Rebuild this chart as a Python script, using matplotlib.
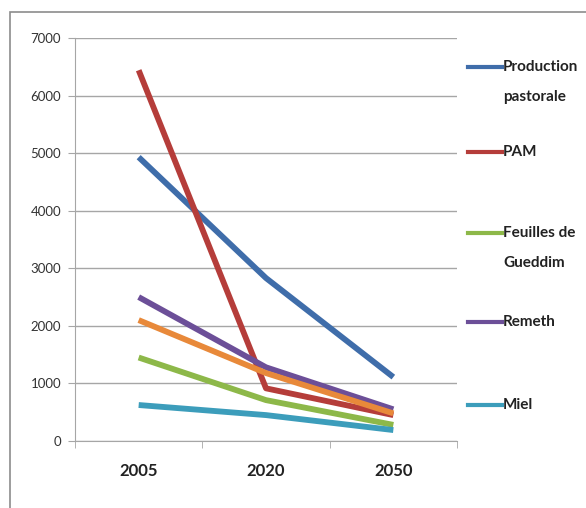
import numpy as np
import matplotlib.pyplot as plt
from matplotlib.lines import Line2D
from matplotlib.patches import Rectangle

years = ['2005', '2020', '2050']
production_pastorale = [4930, 2830, 1110]
pam = [6440, 915, 450]
feuilles_gueddim = [1450, 710, 280]
remeth = [2500, 1280, 550]
miel = [625, 450, 190]
autre = [2100, 1180, 480]

series = [
    ('Production\npastorale', production_pastorale, '#3F6DAA'),
    ('PAM', pam, '#B53D3A'),
    ('Feuilles de\nGueddim', feuilles_gueddim, '#8DB849'),
    ('Remeth', remeth, '#6C4F98'),
    ('Miel', miel, '#3C9DBB'),
]

plt.rcParams['font.family'] = ['Lato', 'DejaVu Sans']

fig = plt.figure(figsize=(5.86, 5.08), dpi=100)
fig.patch.set_facecolor('white')
# outer chart frame
fig.add_artist(Rectangle((10/586, -0.01), 1.0, 1 - 12/508 + 0.01, transform=fig.transFigure,
                         fill=False, edgecolor='#8c8c8c', lw=1.2))

ax = fig.add_axes([75/586, 67/508, 382/586, 403/508])
x = np.arange(len(years))
for label, vals, color in series:
    ax.plot(x, vals, color=color, lw=4.2, solid_capstyle='butt', zorder=3)
ax.plot(x, autre, color='#E8893A', lw=4.2, solid_capstyle='butt', zorder=3)

ax.set_xlim(-0.5, 2.5)
ax.set_ylim(0, 7000)
ax.set_yticks(range(0, 7001, 1000))
ax.yaxis.grid(True, color='#a6a6a6', lw=1)
ax.set_axisbelow(True)
for s in ['top', 'right']:
    ax.spines[s].set_visible(False)
ax.spines['left'].set_color('#a6a6a6')
ax.spines['bottom'].set_color('#a6a6a6')
ax.tick_params(axis='y', length=5, color='#a6a6a6', labelsize=9.5, labelcolor='#333333', pad=5)
ax.set_xticks(x)
ax.set_xticklabels(years, fontsize=12, fontweight='bold', color='#222222')
ax.tick_params(axis='x', length=0, pad=16)
ax.set_xticks([-0.5, 0.5, 1.5, 2.5], minor=True)
ax.tick_params(axis='x', which='minor', length=5, color='#a6a6a6')

# legend drawn beside the plot area; sample sits on the first text line
legend_y = [67, 152, 233, 322, 405]
for (label, vals, color), ly in zip(series, legend_y):
    yf = 1 - ly/508
    fig.add_artist(Line2D([468/586, 502/586], [yf, yf], transform=fig.transFigure,
                          color=color, lw=3))
    for i, part in enumerate(label.split('\n')):
        fig.text(503/586, 1 - (ly + 30*i)/508, part, fontsize=11, va='center', ha='left',
                 fontweight='bold', color='#222222')

fig.savefig('out.png', dpi=100)
